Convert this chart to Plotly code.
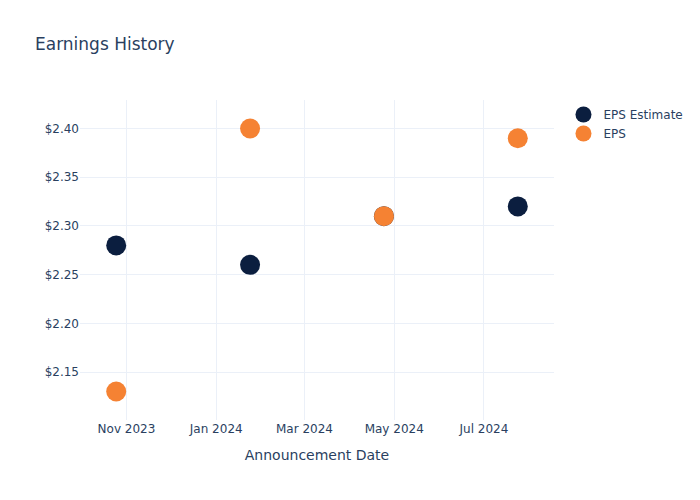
import plotly.graph_objects as go

dates = ["2023-10-25", "2024-01-24", "2024-04-24", "2024-07-24"]
eps_estimate = [2.28, 2.26, 2.31, 2.32]
eps_actual = [2.13, 2.40, 2.31, 2.39]

fig = go.Figure()
fig.add_trace(go.Scatter(x=dates, y=eps_estimate, mode="markers", name="EPS Estimate",
                         marker=dict(color="#0B1E3F", size=20)))
fig.add_trace(go.Scatter(x=dates, y=eps_actual, mode="markers", name="EPS",
                         marker=dict(color="#F58233", size=20)))
fig.update_layout(
    template="plotly_white",
    width=700, height=500,
    font=dict(family="DejaVu Sans"),
    title=dict(text="Earnings History"),
    xaxis=dict(title=dict(text="Announcement Date")),
    yaxis=dict(tickprefix="$", tickformat=".2f"),
)
fig.write_html("out.html")
